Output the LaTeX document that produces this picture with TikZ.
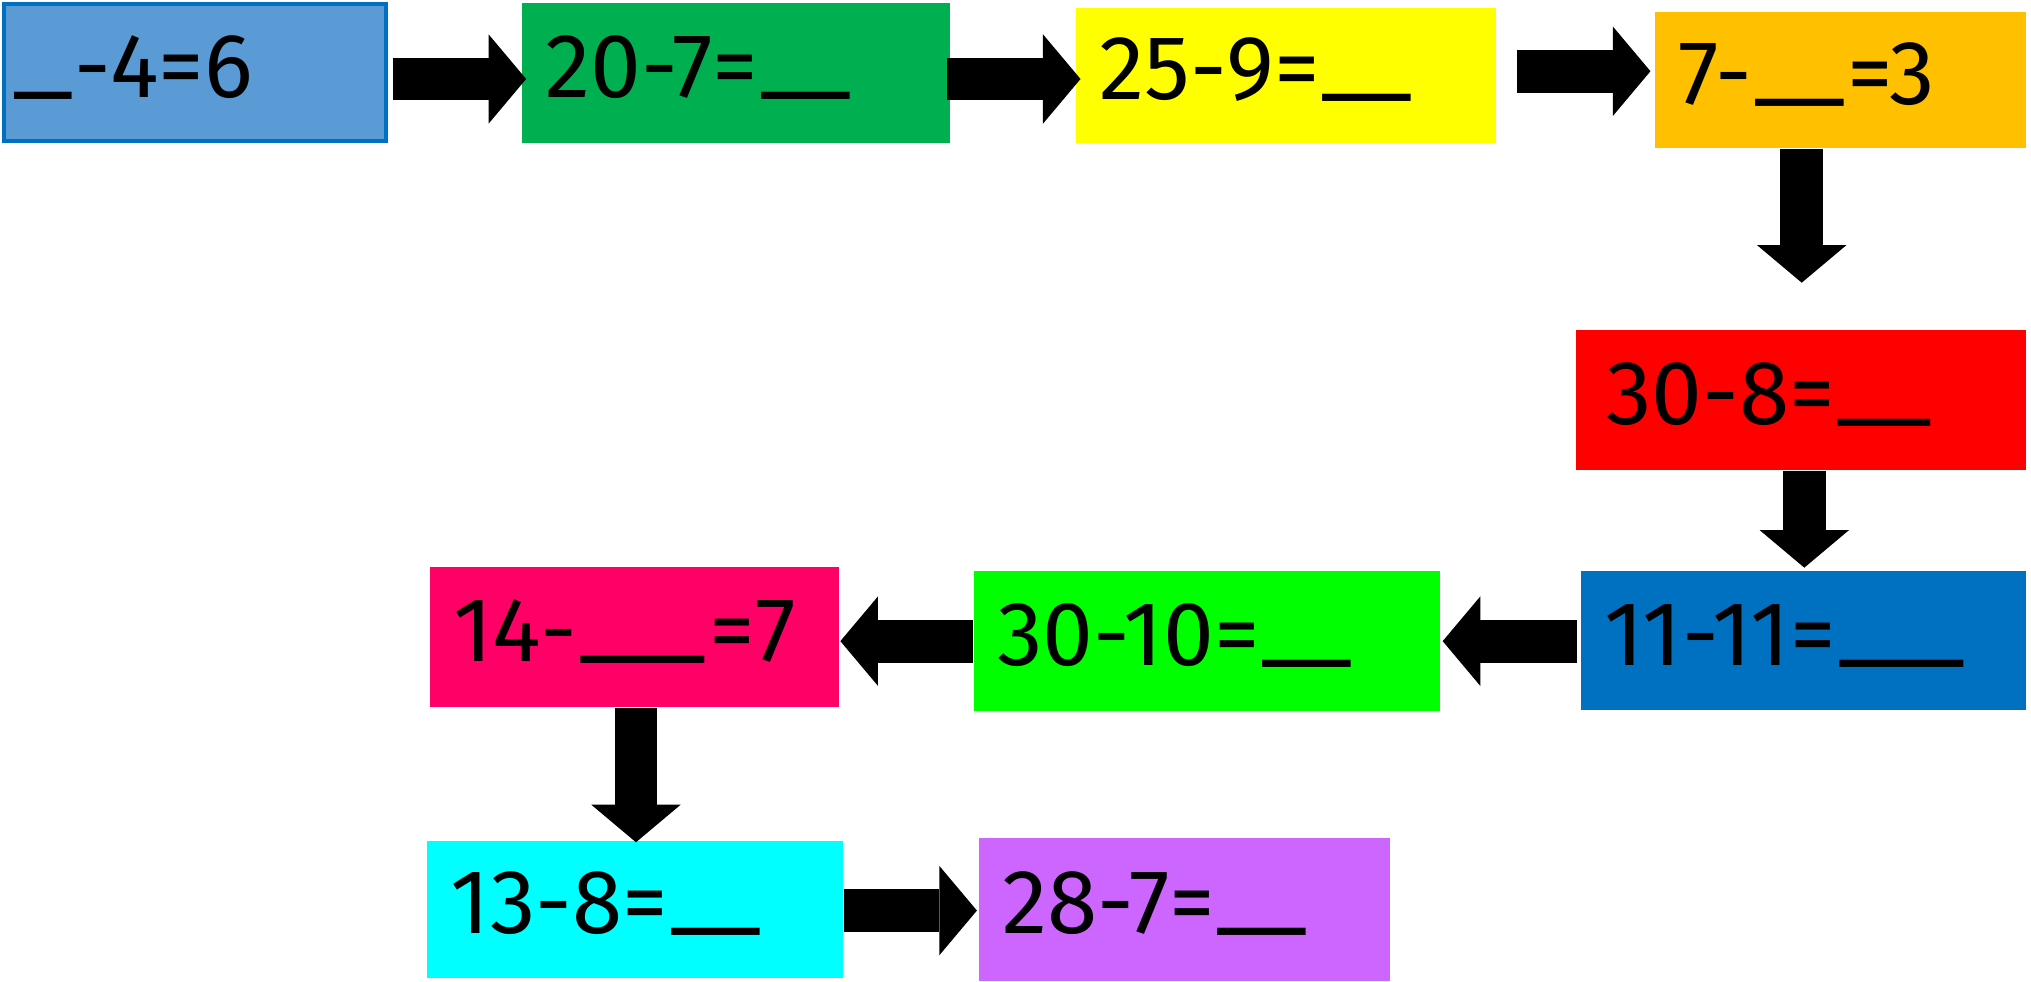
\documentclass[tikz,border=0pt]{standalone}
\usepackage{xcolor}
\usepackage{tikz}
\usepackage{fontspec}
\setmainfont{Fira Sans}
\usetikzlibrary{arrows.meta,positioning,calc}

\definecolor{startfill}{HTML}{5B9BD5}
\definecolor{startline}{HTML}{0070C0}
\definecolor{boxgreen}{HTML}{00B050}
\definecolor{boxyellow}{HTML}{FFFF00}
\definecolor{boxorange}{HTML}{FFC000}
\definecolor{boxred}{HTML}{FF0000}
\definecolor{boxblue}{HTML}{0070C0}
\definecolor{boxlime}{HTML}{00FF00}
\definecolor{boxpink}{HTML}{FF0066}
\definecolor{boxcyan}{HTML}{00FFFF}
\definecolor{boxpurple}{HTML}{CC66FF}

% blanks to fill in
\newcommand{\fillblank}[1]{\raisebox{0.12em}{\scalebox{#1}[1]{\_}}}

\tikzset{
  sumbox/.style={rectangle, inner ysep=0pt, inner xsep=0.18cm, align=left,
    text height=0.5cm, text depth=0.12cm, font=\fontsize{20}{22}\selectfont},
  blockarrow/.style={line width=0.33cm,
    -{Triangle[length=0.29cm, width=0.69cm, line width=0pt]}}
}

\begin{document}
\begin{tikzpicture}[x=0.01cm, y=-0.01cm]
  \useasboundingbox (0,0) rectangle (1568,758);

  % Top row
  \node[sumbox, fill=startfill, draw=startline, line width=0.03cm, inner xsep=0.07cm,
    text width=2.81cm, minimum height=1.06cm] (start) at (150.5,56) {\fillblank{1.3}-4=6};
  \node[sumbox, fill=boxgreen, text width=2.94cm, minimum height=1.08cm] (sumA) at (568,56) {20-7=\fillblank{2}};
  \node[sumbox, fill=boxyellow, text width=2.88cm, minimum height=1.04cm] (sumB) at (993,58) {25-9=\fillblank{2}};
  \node[sumbox, fill=boxorange, text width=2.50cm, minimum height=1.05cm] (sumC) at (1421,61.5) {7-\fillblank{2}=3};

  % Right column
  \node[sumbox, fill=boxred, inner xsep=0.23cm, text width=3.01cm, minimum height=1.08cm] (sumD) at (1390.5,309) {30-8=\fillblank{2.1}};
  \node[sumbox, fill=boxblue, text width=3.07cm, minimum height=1.07cm] (sumE) at (1392.5,494.5) {11-11=\fillblank{2.8}};

  % Middle row
  \node[sumbox, fill=boxlime, text width=3.24cm, minimum height=1.08cm] (sumF) at (932,495) {30-10=\fillblank{2}};
  \node[sumbox, fill=boxpink, text width=2.80cm, minimum height=1.08cm] (sumG) at (490,492) {14-\fillblank{2.8}=7};

  % Bottom row
  \node[sumbox, fill=boxcyan, text width=2.85cm, minimum height=1.06cm] (sumH) at (490.5,702) {13-8=\fillblank{2}};
  \node[sumbox, fill=boxpurple, text width=2.81cm, minimum height=1.10cm] (sumI) at (914.5,702) {28-7=\fillblank{2}};

  % Block arrows
  \draw[blockarrow] ($(start.east)+(4,5)$) -- ($(sumA.west)+(4,5)$);
  \draw[blockarrow] ($(sumA.east)+(-3,5)$) -- ($(sumB.west)+(4,3)$);
  \draw[blockarrow] ($(sumB.east)+(15,-3)$) -- ($(sumC.west)+(-3,-6.5)$);
  \draw[blockarrow] ($(sumC.south)+(-30,0)$) -- ($(sumD.north)+(0.5,-36)$);
  \draw[blockarrow] ($(sumD.south)+(2.5,0)$) -- ($(sumE.north)+(0.5,-2)$);
  \draw[blockarrow] ($(sumE.west)+(-3,0.5)$) -- ($(sumF.east)+(1,0)$);
  \draw[blockarrow] (sumF.west) -- ($(sumG.east)+(0,3)$);
  \draw[blockarrow] ($(sumG.south)+(1,0)$) -- ($(sumH.north)+(0.5,2)$);
  \draw[blockarrow] ($(sumH.east)+(0,1)$) -- ($(sumI.west)+(-1,1)$);
\end{tikzpicture}
\end{document}
